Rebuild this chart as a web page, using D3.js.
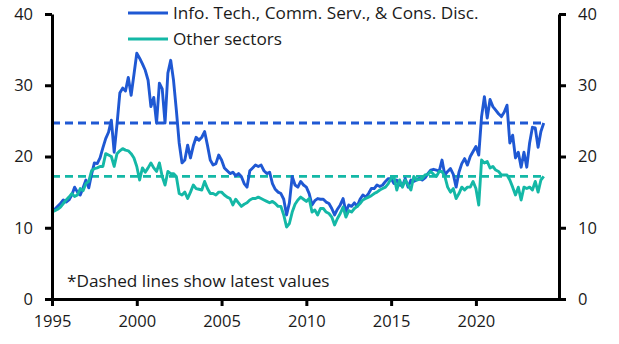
<!DOCTYPE html>
<html>
<head>
<meta charset="utf-8">
<script src="https://cdn.jsdelivr.net/npm/d3@7"></script>
<style>
  body { margin: 0; background: #fff; }
  text { font-family: "Open Sans", Lato, sans-serif; fill: #1a1a1a; }
  .axis path, .axis line { stroke: #000; }
</style>
</head>
<body>
<div id="chart"></div>
<script>
var svgWidth = 619;
var svgHeight = 344;

// bi-monthly observations starting Jan 1995
var startYear = 1995;
var stepsPerYear = 6;

var seriesNames = ["Info. Tech., Comm. Serv., & Cons. Disc.", "Other sectors"];
var seriesColors = ["#1f58d3", "#14b8a6"];

var techValues = [
  12.2, 12.6, 13.0, 13.4, 13.9, 13.6,
  13.9, 14.6, 15.7, 15.0, 14.6, 15.6,
  16.7, 15.6, 17.5, 19.1, 19.0, 19.8,
  21.2, 22.5, 23.4, 25.1, 20.6, 24.5,
  28.9, 29.6, 29.2, 31.1, 28.6, 31.5,
  34.5, 33.8, 33.0, 32.1, 30.7, 27.0,
  28.3, 24.7, 30.3, 29.5, 24.7, 31.7,
  33.5, 30.7, 26.5, 21.9, 19.1, 19.5,
  21.6, 19.8, 21.5, 22.7, 22.3, 22.7,
  23.5, 21.6, 19.5, 18.8, 19.0, 20.2,
  19.5, 18.4, 18.0, 17.6, 17.8, 17.3,
  17.6, 17.2, 16.2, 15.7, 18.0, 18.4,
  18.8, 18.6, 18.8, 18.0, 17.6, 17.8,
  16.2, 15.4, 15.0, 14.8, 14.0, 11.8,
  13.5, 17.2, 16.0, 15.7, 16.5, 16.0,
  15.7, 14.8, 13.2, 13.8, 14.1, 14.0,
  14.0, 13.6, 13.4, 12.7, 11.8, 12.6,
  13.2, 14.1, 12.2, 13.2, 13.0, 13.5,
  13.0, 14.0, 14.6, 14.3, 14.8, 15.5,
  15.5, 16.0, 15.8, 16.0, 16.5, 16.9,
  16.9, 16.2, 16.7, 16.0, 15.9, 16.9,
  15.7, 16.7, 16.5, 16.7, 16.9, 16.7,
  17.0, 17.6, 18.1, 18.2, 18.1, 17.9,
  19.5, 17.4, 17.9, 18.3, 17.5, 15.7,
  17.8, 19.0, 19.7, 18.8, 20.0, 20.7,
  21.4, 20.2, 25.6, 28.4, 25.4, 28.0,
  27.0, 26.5, 26.0, 25.6, 26.2, 27.2,
  21.9, 23.0, 19.8, 20.6, 18.5, 20.6,
  18.5, 21.9, 24.1, 24.0, 21.3, 23.5,
  24.7
];

var otherValues = [
  12.2, 12.4, 12.6, 12.9, 13.4, 13.9,
  14.3, 14.8, 14.4, 14.6, 15.5, 15.2,
  16.2, 16.5, 18.0, 18.3, 18.4, 18.6,
  18.6, 20.4, 20.2, 20.0, 18.6, 20.4,
  20.8, 21.1, 20.9, 20.8, 20.4, 19.8,
  18.6, 16.7, 18.4, 17.8, 18.4, 19.1,
  18.4, 17.9, 19.1, 17.2, 16.0, 17.9,
  17.6, 17.6, 17.2, 14.8, 14.6, 15.0,
  14.1, 15.0, 16.0, 15.5, 15.4, 15.3,
  16.5, 15.5, 14.8, 14.8, 14.6, 15.0,
  15.0, 14.6, 14.3, 14.1, 13.2, 14.0,
  13.5, 13.0, 13.3, 13.5, 13.9, 14.1,
  14.1, 14.3, 14.1, 13.9, 13.7, 13.5,
  13.7, 13.4, 13.0, 13.0, 11.8, 10.1,
  10.6, 12.2, 13.3, 13.9, 14.3, 14.0,
  13.7, 14.1, 12.2, 12.5, 11.8, 12.7,
  12.7, 12.2, 12.0, 11.5, 10.4, 11.3,
  12.0, 12.9, 11.5, 12.4, 12.2, 12.7,
  13.0, 13.4, 13.9, 14.1, 14.3, 14.5,
  14.8, 15.0, 15.3, 15.5, 15.7, 16.2,
  16.9, 17.2, 15.3, 16.7, 15.7, 16.7,
  16.0, 15.3, 17.2, 16.7, 16.8, 16.9,
  17.4, 17.5, 17.9, 17.5, 17.2, 17.9,
  17.9, 17.2, 15.7, 15.0, 15.5, 14.1,
  14.8, 15.7, 15.3, 15.7, 15.7, 16.5,
  15.5, 13.2, 19.5, 19.1, 19.3, 18.4,
  18.6, 18.1, 17.9, 17.4, 17.4, 17.4,
  16.7, 15.7, 14.6, 15.7, 13.9, 15.7,
  15.5, 15.7, 15.3, 16.5, 15.0, 16.7,
  17.2
];

var yTicks = [0, 10, 20, 30, 40];
var xTicks = [1995, 2000, 2005, 2010, 2015, 2020];
var footnote = "*Dashed lines show latest values";

var margin = { top: 14, right: 60, bottom: 45, left: 52 };
var width = svgWidth - margin.left - margin.right;
var height = svgHeight - margin.top - margin.bottom;

var svg = d3.select("#chart")
  .append("svg")
  .attr("width", svgWidth)
  .attr("height", svgHeight);

var chartGroup = svg.append("g")
  .attr("transform", `translate(${margin.left}, ${margin.top})`);

var xScale = d3.scaleLinear()
  .domain([1995, 2024.9])
  .range([0, width]);

var yScale = d3.scaleLinear()
  .domain([0, 40])
  .range([height, 0]);

var series = [techValues, otherValues].map(function (vals, k) {
  return {
    name: seriesNames[k],
    color: seriesColors[k],
    points: vals.map(function (v, i) { return { date: startYear + i / stepsPerYear, value: v }; })
  };
});

// dashed reference lines at the latest value of each series
series.forEach(function (s) {
  var first = s.points[0];
  var last = s.points[s.points.length - 1];
  chartGroup.append("line")
    .attr("x1", xScale(first.date))
    .attr("x2", xScale(last.date))
    .attr("y1", yScale(last.value))
    .attr("y2", yScale(last.value))
    .attr("stroke", s.color)
    .attr("stroke-width", 2.8)
    .attr("stroke-dasharray", "8,5");
});

var line = d3.line()
  .x(d => xScale(d.date))
  .y(d => yScale(d.value));

series.forEach(function (s) {
  chartGroup.append("path")
    .datum(s.points)
    .attr("fill", "none")
    .attr("stroke", s.color)
    .attr("stroke-width", 2.9)
    .attr("stroke-linejoin", "round")
    .attr("d", line);
});

// axes
var leftAxis = d3.axisLeft(yScale).tickValues(yTicks).tickSize(7).tickSizeOuter(0).tickPadding(12);
var rightAxis = d3.axisRight(yScale).tickValues(yTicks).tickSize(7).tickSizeOuter(0).tickPadding(12);
var bottomAxis = d3.axisBottom(xScale).tickValues(xTicks).tickFormat(d3.format("d")).tickSize(7).tickSizeOuter(0).tickPadding(9);

[
  chartGroup.append("g").call(leftAxis),
  chartGroup.append("g").attr("transform", `translate(${width}, 0)`).call(rightAxis),
  chartGroup.append("g").attr("transform", `translate(0, ${height})`).call(bottomAxis)
].forEach(function (g) {
  g.attr("class", "axis");
  g.select(".domain").attr("stroke-width", 3);
  g.selectAll(".tick line").attr("stroke-width", 3);
  g.selectAll(".tick text").style("font-size", "16.5px").attr("fill", "#1a1a1a");
});

// legend
var legend = svg.append("g");
series.forEach(function (s, k) {
  var ly = 13 + k * 26;
  legend.append("line")
    .attr("x1", 128).attr("x2", 168)
    .attr("y1", ly).attr("y2", ly)
    .attr("stroke", s.color)
    .attr("stroke-width", 2.9);
  legend.append("text")
    .attr("x", 173)
    .attr("y", ly + 6)
    .style("font-size", "17.2px")
    .text(s.name);
});

svg.append("text")
  .attr("x", 67)
  .attr("y", 287)
  .style("font-size", "17.2px")
  .text(footnote);
</script>
</body>
</html>
